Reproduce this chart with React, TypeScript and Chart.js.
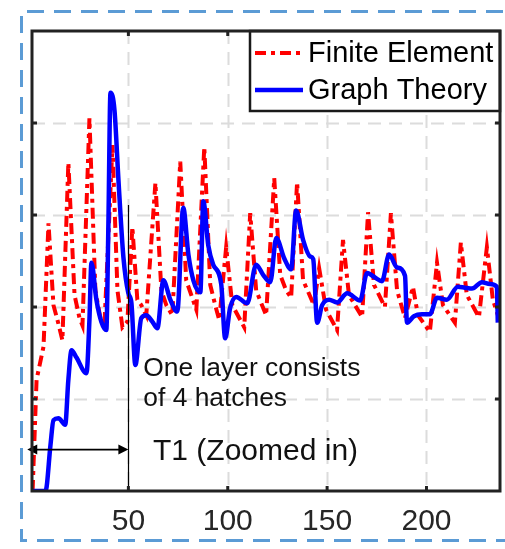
import React, { useEffect, useRef } from "react";
import { Chart, registerables } from "chart.js";

Chart.register(...registerables);

const FONT = "'Liberation Sans', Arial, sans-serif";

const xTicks = [50, 100, 150, 200];
const yTicks = [0, 1, 2, 3, 4, 5];

const seriesNames = ["Finite Element", "Graph Theory"];

const feX = [1.8, 3.8, 7.3, 9.8, 12.3, 14.3, 16.8, 19.8, 22.9, 25.4, 26.9, 30.4, 33.4, 35.9, 37.9, 42.0, 44.5, 47.0, 49.5, 52.0, 54.5, 56.5, 59.0, 63.6, 66.6, 69.1, 72.1, 76.1, 79.1, 84.2, 88.2, 91.2, 93.7, 95.7, 99.2, 102.3, 108.3, 111.3, 114.3, 119.3, 123.4, 126.4, 129.4, 131.9, 134.9, 137.9, 143.4, 146.0, 149.5, 155.0, 158.0, 161.0, 167.6, 170.6, 173.6, 179.1, 182.1, 185.2, 189.2, 193.2, 195.7, 201.7, 205.3, 208.3, 214.3, 217.3, 220.3, 226.4, 230.4, 233.4, 237.0];
const feY = [0, 1.21, 1.57, 2.91, 2.02, 1.86, 1.64, 3.57, 2.13, 1.88, 1.8, 4.05, 2.18, 1.88, 1.78, 3.76, 2.18, 1.78, 1.84, 2.87, 2.08, 2.02, 1.91, 3.35, 2.18, 2.02, 1.91, 3.58, 2.29, 1.97, 3.74, 2.24, 2.02, 1.86, 2.65, 2.02, 1.78, 3.02, 2.18, 1.91, 3.4, 2.35, 2.18, 2.1, 3.36, 2.29, 2.02, 2.42, 1.97, 1.75, 2.73, 2.13, 1.89, 3.03, 2.24, 2.0, 3.02, 2.18, 1.88, 2.22, 1.91, 1.73, 2.48, 2.02, 1.83, 2.7, 2.13, 1.89, 2.65, 2.08, 1.84];

const gtX = [1.5, 8.3, 10.8, 12.3, 14.8, 18.2, 19.8, 21.4, 23.9, 28.9, 30.4, 31.4, 33.9, 36.4, 38.9, 39.9, 41.0, 43.0, 45.0, 47.5, 50.0, 51.5, 53.5, 56.5, 59.0, 62.1, 64.6, 67.6, 71.1, 74.6, 77.6, 80.2, 82.7, 86.2, 87.7, 90.2, 92.7, 96.7, 98.7, 101.2, 104.3, 109.8, 114.3, 117.8, 121.4, 124.4, 128.4, 131.9, 134.4, 137.9, 141.4, 143.0, 145.0, 147.5, 151.0, 155.0, 160.1, 166.6, 170.1, 174.1, 177.6, 181.2, 185.2, 189.2, 190.2, 193.7, 197.7, 201.7, 205.3, 210.3, 215.8, 219.3, 222.9, 227.9, 231.9, 235.4, 235.9];
const gtY = [0, 0, 0.5, 0.77, 0.79, 0.72, 1.21, 1.53, 1.45, 1.28, 1.86, 2.48, 2.08, 1.84, 1.75, 2.84, 4.33, 4.14, 3.38, 2.54, 2.15, 2.05, 1.37, 1.88, 1.91, 1.84, 1.77, 2.29, 2.08, 1.95, 3.08, 2.57, 2.29, 2.16, 3.15, 2.67, 2.46, 2.25, 1.66, 1.99, 2.11, 2.04, 2.46, 2.35, 2.27, 2.75, 2.53, 2.41, 3.05, 2.73, 2.55, 2.52, 1.83, 2.02, 2.08, 2.05, 2.15, 2.07, 2.37, 2.32, 2.28, 2.57, 2.43, 2.34, 1.83, 1.9, 1.92, 1.92, 2.1, 2.08, 2.22, 2.21, 2.2, 2.27, 2.25, 2.22, 1.83];

const annotationLines = ["One layer consists", "of 4 hatches"];
const zoomLabel = "T1 (Zoomed in)";
const layerBoundary = 50;

const decorPlugin = {
  id: "decor",
  beforeDatasetsDraw(chart: any) {
    const { ctx, chartArea: a, scales } = chart;
    const x = scales.x;
    const y = scales.y;
    ctx.save();
    ctx.strokeStyle = "#dcdcdc";
    ctx.lineWidth = 2;
    ctx.setLineDash([13, 8]);
    for (const v of xTicks) {
      const px = Math.round(x.getPixelForValue(v)) + 0.5;
      ctx.beginPath();
      ctx.moveTo(px, a.top);
      ctx.lineTo(px, a.bottom);
      ctx.stroke();
    }
    for (const v of yTicks) {
      if (v <= y.min || v >= y.max) continue;
      const py = Math.round(y.getPixelForValue(v)) + 0.5;
      ctx.beginPath();
      ctx.moveTo(a.left, py);
      ctx.lineTo(a.right, py);
      ctx.stroke();
    }
    ctx.restore();
  },
  afterDatasetsDraw(chart: any) {
    const { ctx, chartArea: a, scales } = chart;
    const x = scales.x;
    const y = scales.y;
    ctx.save();

    // layer boundary line
    const bx = Math.round(x.getPixelForValue(layerBoundary)) + 0.5;
    ctx.strokeStyle = "#000";
    ctx.lineWidth = 1.2;
    ctx.setLineDash([]);
    ctx.beginPath();
    ctx.moveTo(bx, y.getPixelForValue(3.11));
    ctx.lineTo(bx, a.bottom);
    ctx.stroke();

    // double arrow
    const ay = y.getPixelForValue(0.45);
    const ax0 = x.getPixelForValue(-0.9);
    const ax1 = x.getPixelForValue(layerBoundary);
    ctx.lineWidth = 1.6;
    ctx.beginPath();
    ctx.moveTo(ax0 + 6, ay);
    ctx.lineTo(ax1 - 6, ay);
    ctx.stroke();
    ctx.fillStyle = "#000";
    ctx.beginPath();
    ctx.moveTo(ax0, ay);
    ctx.lineTo(ax0 + 10, ay - 5);
    ctx.lineTo(ax0 + 10, ay + 5);
    ctx.closePath();
    ctx.fill();
    ctx.beginPath();
    ctx.moveTo(ax1, ay);
    ctx.lineTo(ax1 - 10, ay - 5);
    ctx.lineTo(ax1 - 10, ay + 5);
    ctx.closePath();
    ctx.fill();

    // texts
    ctx.fillStyle = "#111";
    ctx.textBaseline = "alphabetic";
    ctx.textAlign = "left";
    ctx.font = `26.4px ${FONT}`;
    ctx.fillText(annotationLines[0], x.getPixelForValue(57.5), y.getPixelForValue(1.255));
    ctx.fillText(annotationLines[1], x.getPixelForValue(57.5), y.getPixelForValue(0.92));
    ctx.font = `30px ${FONT}`;
    ctx.fillText(zoomLabel, x.getPixelForValue(62.4), y.getPixelForValue(0.335));

    // legend
    const lx = 250;
    const ly = a.top;
    const lw = a.right - lx;
    const lh = 80;
    ctx.fillStyle = "#fff";
    ctx.fillRect(lx, ly, lw, lh);
    ctx.strokeStyle = "#1a1a1a";
    ctx.lineWidth = 2.5;
    ctx.strokeRect(lx, ly, lw, lh);
    chart.data.datasets.forEach((ds: any, i: number) => {
      const ry = ly + 22 + i * 37;
      ctx.strokeStyle = ds.borderColor;
      ctx.lineWidth = ds.borderWidth;
      ctx.setLineDash(ds.borderDash || []);
      ctx.beginPath();
      ctx.moveTo(lx + 5, ry);
      ctx.lineTo(lx + 53, ry);
      ctx.stroke();
      ctx.setLineDash([]);
      ctx.fillStyle = "#000";
      ctx.font = `29px ${FONT}`;
      ctx.textBaseline = "middle";
      ctx.fillText(ds.label, lx + 58, ry + 1);
    });

    // frame
    ctx.strokeStyle = "#222";
    ctx.lineWidth = 3;
    ctx.setLineDash([]);
    ctx.strokeRect(a.left, a.top, a.right - a.left, a.bottom - a.top);

    // inward ticks
    ctx.lineWidth = 3;
    for (const v of xTicks) {
      const px = x.getPixelForValue(v);
      ctx.beginPath();
      ctx.moveTo(px, a.bottom);
      ctx.lineTo(px, a.bottom - 5);
      ctx.stroke();
      if (px < lx) {
        ctx.beginPath();
        ctx.moveTo(px, a.top);
        ctx.lineTo(px, a.top + 5);
        ctx.stroke();
      }
    }
    for (const v of yTicks) {
      if (v <= y.min || v >= y.max) continue;
      const py = y.getPixelForValue(v);
      ctx.beginPath();
      ctx.moveTo(a.left, py);
      ctx.lineTo(a.left + 5, py);
      ctx.stroke();
      if (py > ly + lh) {
        ctx.beginPath();
        ctx.moveTo(a.right, py);
        ctx.lineTo(a.right - 5, py);
        ctx.stroke();
      }
    }

    // outer dashed panel border
    ctx.strokeStyle = "#5b9bd5";
    ctx.lineWidth = 3;
    ctx.setLineDash([17, 10]);
    ctx.beginPath();
    ctx.moveTo(530, 11.5);
    ctx.lineTo(21.5, 11.5);
    ctx.lineTo(21.5, 540.5);
    ctx.lineTo(530, 540.5);
    ctx.stroke();

    ctx.restore();
  },
};

export default function App() {
  const ref = useRef<HTMLCanvasElement | null>(null);
  useEffect(() => {
    document.body.style.margin = "0";
    const canvas = ref.current;
    if (!canvas) return;
    const chart = new Chart(canvas, {
      type: "line",
      data: {
        datasets: [
          {
            label: seriesNames[0],
            data: feX.map((v, i) => ({ x: v, y: feY[i] })),
            borderColor: "#ff0000",
            borderWidth: 4,
            borderDash: [11, 5, 4, 5],
            tension: 0,
            pointRadius: 0,
            order: 2,
          },
          {
            label: seriesNames[1],
            data: gtX.map((v, i) => ({ x: v, y: gtY[i] })),
            borderColor: "#0000ff",
            borderWidth: 4.5,
            cubicInterpolationMode: "monotone",
            pointRadius: 0,
            order: 1,
          },
        ],
      },
      options: {
        responsive: false,
        animation: false,
        devicePixelRatio: 1,
        layout: { padding: { left: 32, right: 5, top: 31, bottom: 0 } },
        plugins: { legend: { display: false }, tooltip: { enabled: false } },
        elements: { point: { radius: 0 } },
        scales: {
          x: {
            type: "linear",
            min: 1.5,
            max: 237,
            grid: { display: false, drawTicks: false },
            border: { display: false },
            afterBuildTicks: (s: any) => {
              s.ticks = xTicks.map((v) => ({ value: v }));
            },
            afterFit: (s: any) => {
              s.height = 58;
            },
            ticks: {
              font: { size: 30, family: FONT },
              color: "#262626",
              padding: 13,
              maxRotation: 0,
              autoSkip: false,
            },
          },
          y: {
            type: "linear",
            min: 0,
            max: 5,
            afterBuildTicks: (s: any) => {
              s.ticks = yTicks.map((v) => ({ value: v }));
            },
            afterFit: (s: any) => {
              s.width = 0;
            },
            ticks: { display: false },
            grid: { display: false, drawTicks: false },
            border: { display: false },
          },
        },
      },
      plugins: [decorPlugin],
    } as any);
    return () => chart.destroy();
  }, []);
  return (
    <canvas
      ref={ref}
      width={505}
      height={549}
      style={{ display: "block", width: 505, height: 549 }}
    />
  );
}
